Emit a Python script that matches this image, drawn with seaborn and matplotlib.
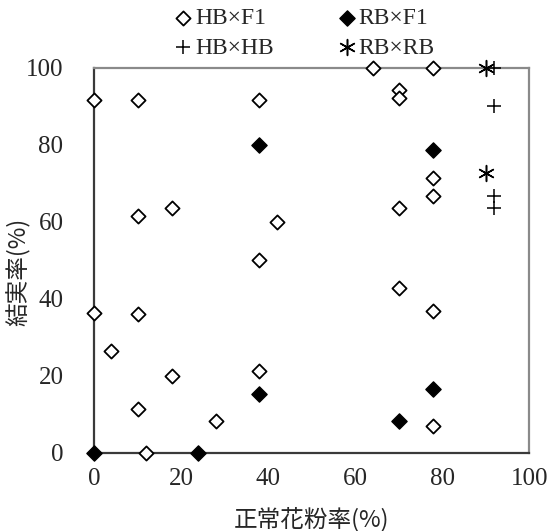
import numpy as np
import pandas as pd
import matplotlib
matplotlib.use('Agg')
import matplotlib.pyplot as plt
import seaborn as sns

# HB x F1 (open diamonds)
hb_f1_x = [0, 10, 38, 10, 18, 42, 38, 0, 10, 4, 18, 38, 10, 28, 12,
           64, 78, 70, 70, 78, 78, 70, 70, 78, 78]
hb_f1_y = [91.7, 91.7, 91.7, 61.5, 63.6, 60.0, 50.0, 36.4, 36.0, 26.5, 20.0, 21.4, 11.5, 8.3, 0,
           100, 100, 94.4, 92.3, 71.4, 66.7, 63.6, 42.9, 37.0, 7.1]

# RB x F1 (filled diamonds)
rb_f1_x = [0, 24, 38, 38, 78, 78, 70]
rb_f1_y = [0, 0, 80.0, 15.4, 78.6, 16.7, 8.3]

# HB x HB (plus)
hb_hb_x = [92, 92, 92, 92]
hb_hb_y = [100, 90.0, 66.7, 63.6]

# RB x RB (asterisk)
rb_rb_x = [90, 90]
rb_rb_y = [100, 72.7]

x_ticks = [0, 20, 40, 60, 80, 100]
y_ticks = [0, 20, 40, 60, 80, 100]

serif = ['Liberation Serif', 'DejaVu Serif']
jp = ['Noto Sans CJK JP', 'DejaVu Sans']

sns.set_style('white')
plt.rcParams['font.family'] = serif

fig = plt.figure(figsize=(5.53, 5.31), dpi=100)
ax = fig.add_axes([0.170, 0.147, 0.787, 0.725])

groups = [
    ('HB×F1', hb_f1_x, hb_f1_y, dict(marker='D', color='white', edgecolor='black', linewidth=1.3, s=52)),
    ('HB×HB', hb_hb_x, hb_hb_y, dict(marker='+', color='black', linewidth=1.1, s=110)),
    ('RB×F1', rb_f1_x, rb_f1_y, dict(marker='D', color='black', edgecolor='black', linewidth=1.0, s=60)),
    ('RB×RB', rb_rb_x, rb_rb_y, dict(marker=(6, 2, 0), color='black', linewidth=1.1, s=130)),
]
for name, xs, ys, kw in groups:
    df = pd.DataFrame({'x': xs, 'y': ys})
    sns.scatterplot(data=df, x='x', y='y', ax=ax, label=name, clip_on=False, zorder=5, **kw)

ax.set_xlim(0, 100)
ax.set_ylim(0, 100)
ax.set_xticks(x_ticks)
ax.set_yticks(y_ticks)
ax.tick_params(direction='in', length=7, width=1.2, color='#404040', labelsize=18)
ax.tick_params(axis='x', pad=11)
ax.tick_params(axis='y', pad=22)

for side in ['left', 'bottom']:
    ax.spines[side].set_color('#3a3a3a')
    ax.spines[side].set_linewidth(1.6)
for side in ['top', 'right']:
    ax.spines[side].set_color('#8a8a8a')
    ax.spines[side].set_linewidth(1.6)

ax.set_xlabel('正常花粉率(%)', family=jp, fontsize=17)
ax.xaxis.set_label_coords(0.5, -0.14)
ax.set_ylabel('結実率(%)', family=jp, fontsize=17)
ax.yaxis.set_label_coords(-0.145, 0.47)

ax.legend(loc='center', bbox_to_anchor=(0.548, 0.938), bbox_transform=fig.transFigure,
          ncol=2, frameon=False, fontsize=17, handletextpad=0.0, columnspacing=2.6,
          labelspacing=0.35, borderaxespad=0, handlelength=1.0)

fig.savefig('out.png', dpi=100)
